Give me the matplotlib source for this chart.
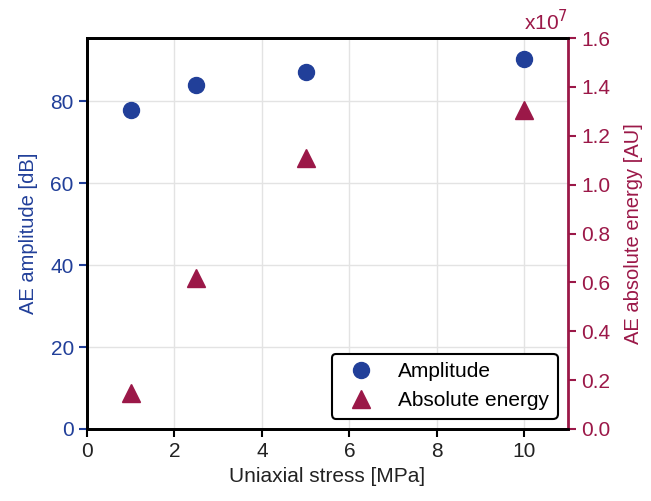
import numpy as np
import matplotlib.pyplot as plt

plt.rcParams['font.family'] = ['Liberation Sans', 'DejaVu Sans']

# datos
estres = [1, 2.5, 5, 10]
amplitud = [77.8, 84.0, 87.0, 90.2]
energia = [0.147e7, 0.617e7, 1.108e7, 1.305e7]

azul = "#213f99"
granate = "#9b1848"

fig = plt.figure(figsize=(6.51, 5.01), dpi=100)
ax = fig.add_axes([87/651, 72/501, 481/651, 391/501])
ax2 = ax.twinx()

p1, = ax.plot(estres, amplitud, 'o', color=azul, markersize=11.5, label="Amplitude", zorder=3)
p2, = ax2.plot(estres, energia, '^', color=granate, markersize=12.5, label="Absolute energy", zorder=3)

ax.set_xlim(0, 11)
ax.set_ylim(0, 95.4)
ax2.set_ylim(0, 1.6e7)

ax.set_xticks([0, 2, 4, 6, 8, 10])
ax.set_yticks([0, 20, 40, 60, 80])
ticks_e = np.arange(0, 1.61, 0.2)
ax2.set_yticks(ticks_e * 1e7)
ax2.set_yticklabels(["%.1f" % t for t in ticks_e])

ax.grid(True, color="#e3e3e3", linewidth=1)
ax.set_axisbelow(True)

ax.tick_params(axis='both', direction='out', length=6, width=1.5, labelsize=15)
ax.tick_params(axis='y', colors=azul)
ax.tick_params(axis='x', colors='black', labelcolor='#222222')
ax2.tick_params(axis='y', direction='out', length=6, width=1.5, labelsize=15, colors=granate)

for s in ['left', 'bottom', 'top']:
    ax.spines[s].set_linewidth(2)
    ax2.spines[s].set_linewidth(2)
ax2.spines['right'].set_linewidth(2)
ax2.spines['right'].set_color(granate)
ax.spines['right'].set_visible(False)

ax.set_xlabel("Uniaxial stress [MPa]", fontsize=15, color='#222222')
ax.set_ylabel("AE amplitude [dB]", fontsize=14.5, color=azul, labelpad=9)
ax2.set_ylabel("AE absolute energy [AU]", fontsize=14.5, color=granate, labelpad=10)

ax2.text(1.0, 1.01, "x10$^7$", transform=ax2.transAxes, ha='right', va='bottom',
         fontsize=15, color=granate)

leg = ax2.legend(handles=[p1, p2], loc='lower right', fontsize=15, frameon=True,
                 fancybox=True, framealpha=1, edgecolor='black')
leg.get_frame().set_linewidth(1.5)

plt.savefig("out.png", dpi=100)
